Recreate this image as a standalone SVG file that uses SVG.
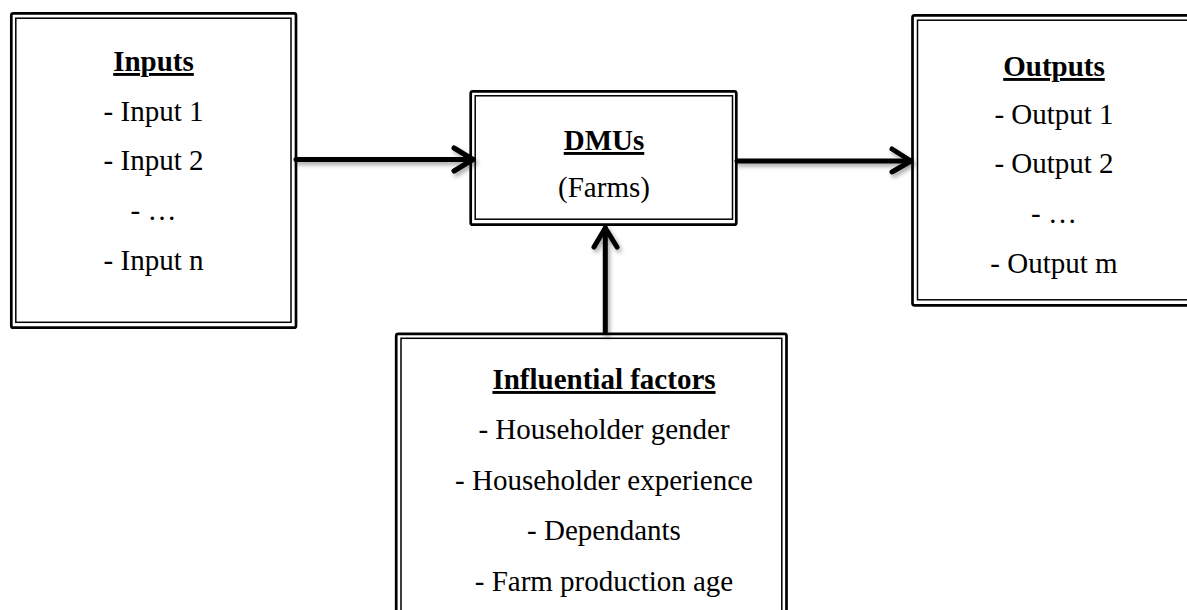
<svg xmlns="http://www.w3.org/2000/svg" width="1187" height="610" viewBox="0 0 1187 610">
  <style>
    .outer { fill: #ffffff; stroke: #000000; stroke-width: 2.7; }
    .inner { fill: none; stroke: #000000; stroke-width: 1.5; }
    .t { font-family: "Liberation Serif", "Times New Roman", serif; font-size: 29px; fill: #000000; text-anchor: middle; }
    .h { font-weight: bold; text-decoration: underline; }
    .conn { fill: none; stroke: #000000; stroke-width: 5; stroke-linecap: round; stroke-linejoin: round; }
  </style>
  <defs>
    <filter id="sh" x="-20%" y="-50%" width="140%" height="200%">
      <feDropShadow dx="2" dy="3" stdDeviation="2" flood-color="#000000" flood-opacity="0.35"/>
    </filter>
  </defs>
  <rect width="1187" height="610" fill="#ffffff"/>

  <g id="inputs">
    <rect class="outer" x="11.3" y="13.3" width="284.7" height="314.4" rx="2"/>
    <rect class="inner" x="15.8" y="18.2" width="275.2" height="304.1"/>
    <text class="t h" x="153.5" y="71">Inputs</text>
    <text class="t" x="153.5" y="121">- Input 1</text>
    <text class="t" x="153.5" y="170">- Input 2</text>
    <text class="t" x="153.5" y="220">- …</text>
    <text class="t" x="153.5" y="270">- Input n</text>
  </g>

  <g id="dmus">
    <rect class="outer" x="470.7" y="91.3" width="265.6" height="133.4" rx="2"/>
    <rect class="inner" x="475.2" y="95.8" width="257.3" height="123.4"/>
    <text class="t h" x="604" y="150">DMUs</text>
    <text class="t" x="604" y="197">(Farms)</text>
  </g>

  <g id="outputs">
    <rect class="outer" x="912.5" y="15.3" width="290" height="290" rx="2"/>
    <rect class="inner" x="917.5" y="20.2" width="290" height="279.6"/>
    <text class="t h" x="1054" y="76">Outputs</text>
    <text class="t" x="1054" y="124">- Output 1</text>
    <text class="t" x="1054" y="173">- Output 2</text>
    <text class="t" x="1054" y="223">- …</text>
    <text class="t" x="1054" y="273">- Output m</text>
  </g>

  <g id="influential">
    <rect class="outer" x="396.2" y="333.8" width="390.3" height="300" rx="2"/>
    <rect class="inner" x="401" y="338.3" width="380.8" height="300"/>
    <text class="t h" x="604" y="389">Influential factors</text>
    <text class="t" x="604" y="439">- Householder gender</text>
    <text class="t" x="604" y="490">- Householder experience</text>
    <text class="t" x="604" y="540">- Dependants</text>
    <text class="t" x="604" y="591">- Farm production age</text>
  </g>

  <g id="connectors" filter="url(#sh)">
    <path class="conn" d="M296 159.5 H473"/>
    <path class="conn" d="M454 148 L473 159.5 L454 171"/>
    <path class="conn" d="M737 161 H911"/>
    <path class="conn" d="M892 149 L911 161 L892 172"/>
    <path class="conn" d="M605.3 332 V228"/>
    <path class="conn" d="M594 247 L605.3 228 L617 247"/>
  </g>
</svg>
